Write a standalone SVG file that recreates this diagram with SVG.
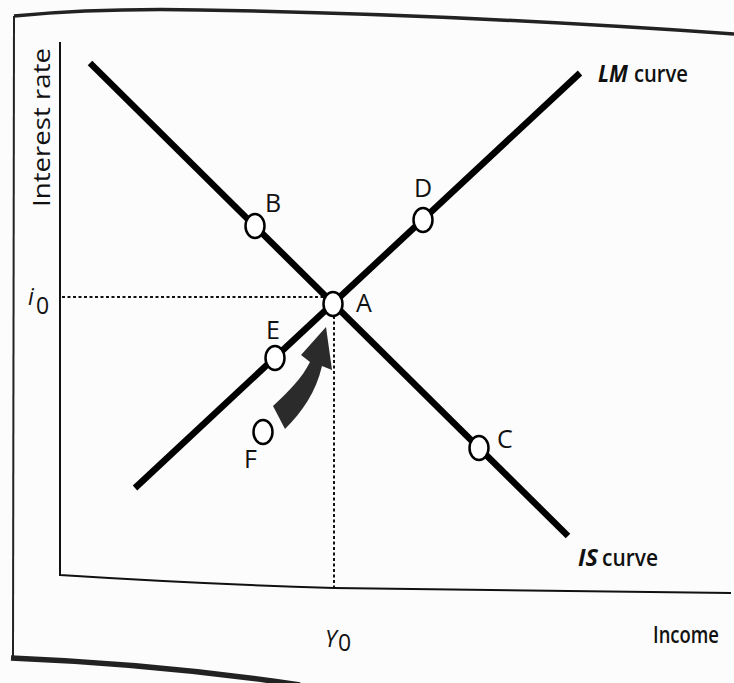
<svg xmlns="http://www.w3.org/2000/svg" width="734" height="683" viewBox="0 0 734 683">
<style>
.frame{fill:none;stroke:#222;}
.axis{fill:none;stroke:#111;stroke-width:2;}
.curve{fill:none;stroke:#000;stroke-width:6.5;stroke-linecap:butt;}
.guide{fill:none;stroke:#111;stroke-width:2;stroke-dasharray:3 2.5;}
.pt{fill:#fff;stroke:#000;stroke-width:2.5;}
.lbl{font-family:"Open Sans","Noto Sans",sans-serif;font-size:25px;fill:#111;}
.txt{font-family:"Open Sans","Noto Sans",sans-serif;font-size:23px;fill:#111;}
.sb{font-weight:600;}
.it{font-style:italic;}
.bi{font-weight:bold;font-style:italic;}
</style>
<rect width="734" height="683" fill="#fcfcfc"/>
<g id="frame">
<path class="frame" d="M14,16 Q100,8 200,10 Q450,14 734,34" stroke-width="3.5"/>
<path class="frame" d="M14,16 L13,660" stroke-width="2" stroke="#555"/>
<path class="frame" d="M11,658 Q160,664 300,685" stroke-width="5.5"/>
</g>
<g id="axes">
<path class="axis" d="M60,42 L60,575 Q200,584 334,588 Q530,590 731,593"/>
<text class="txt" transform="translate(50,207) rotate(-90)" textLength="159" lengthAdjust="spacingAndGlyphs">Interest rate</text>
<text class="txt sb" x="653" y="643" textLength="66" lengthAdjust="spacingAndGlyphs">Income</text>
<text class="txt it" x="28" y="305" font-size="25">i</text><text class="txt" x="36" y="314" font-size="19">0</text>
<text class="txt it" x="325" y="647" font-size="24">Y</text><text class="txt" x="338" y="651" font-size="19">0</text>
</g>
<g id="connectors">
<line class="guide" x1="62" y1="297" x2="325" y2="297"/>
<line class="guide" x1="334" y1="316" x2="334" y2="588"/>
<path d="M273,406 C290,390 302,378 310,362 L301,355 L326,327 L332,370 L322,366 C316,392 302,412 285,429 Z" fill="#2b2b2b"/>
</g>
<g id="is-curve">
<line class="curve" x1="90" y1="63" x2="568" y2="536"/>
<text class="txt bi" x="578" y="566" textLength="20" lengthAdjust="spacingAndGlyphs">IS</text>
<text class="txt sb" x="602" y="566" textLength="56" lengthAdjust="spacingAndGlyphs">curve</text>
</g>
<g id="lm-curve">
<line class="curve" x1="135" y1="488" x2="580" y2="73"/>
<text class="txt bi" x="598" y="82" textLength="30" lengthAdjust="spacingAndGlyphs">LM</text>
<text class="txt sb" x="634" y="82" textLength="54" lengthAdjust="spacingAndGlyphs">curve</text>
</g>
<g id="node-A"><ellipse class="pt" cx="333" cy="304" rx="9.5" ry="12"/><text class="lbl" x="356" y="312">A</text></g>
<g id="node-B"><ellipse class="pt" cx="255" cy="226" rx="9.5" ry="12"/><text class="lbl" x="265" y="212">B</text></g>
<g id="node-C"><ellipse class="pt" cx="479" cy="448" rx="9.5" ry="12"/><text class="lbl" x="497" y="448">C</text></g>
<g id="node-D"><ellipse class="pt" cx="423" cy="220" rx="9.5" ry="12"/><text class="lbl" x="414" y="197">D</text></g>
<g id="node-E"><ellipse class="pt" cx="275" cy="358" rx="9.5" ry="12"/><text class="lbl" x="266" y="339">E</text></g>
<g id="node-F"><ellipse class="pt" cx="263" cy="432" rx="9.5" ry="12"/><text class="lbl" x="244" y="468">F</text></g>
</svg>
